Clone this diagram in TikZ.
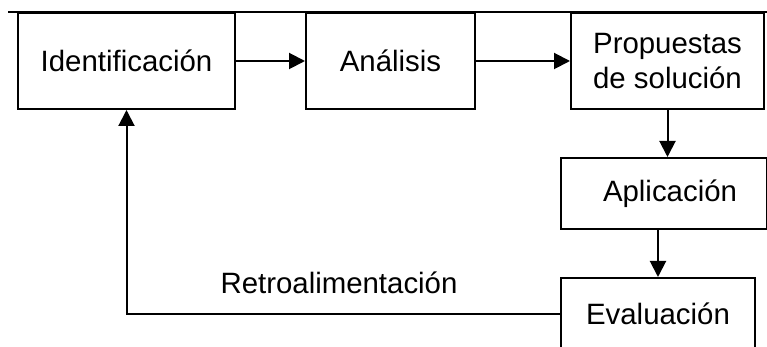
\documentclass[tikz,border=0pt]{standalone}
\usepackage{fontspec}
\setmainfont{Liberation Sans}
\usepackage{tikz}
\usetikzlibrary{
  positioning,
  arrows.meta
}
\tikzset{
  >={Triangle[length=8pt,width=8pt]},
  every node/.style={font=\fontsize{14.7}{17.5}\selectfont},
  stage/.style={draw, line width=1pt, inner sep=0pt, align=center, minimum height=48pt},
  link/.style={->, line width=1pt}
}

\begin{document}
\begin{tikzpicture}[x=0.5pt, y=-0.5pt]
    \clip (0,0) rectangle (767,347);
    \coordinate (t0) at (8,12.5);
    \coordinate (t1) at (767,12.5);
    \node[stage, minimum width=108.5pt] (ident) at (126.5,61) {Identificación};
    \node[stage, minimum width=84.5pt] (anal) at (390.5,61) {Análisis};
    \node[stage, minimum width=96.5pt] (prop) at (667.5,61) {Propuestas\\de solución};
    \node[stage, minimum width=103pt, minimum height=35.5pt] (apl) at (664,193.5) {\hspace*{6pt}Aplicación};
    \node[stage, minimum width=97pt, minimum height=36pt] (eval) at (658,314) {Evaluación};
    \node (retro) at (339,283) {Retroalimentación};
    \draw[line width=1pt] (t0) -- (t1);
    \draw[link] (ident) -- (anal);
    \draw[link] (anal) -- (prop);
    \draw[link] (prop.south) -- (prop.south |- apl.north);
    \draw[link] (eval.north |- apl.south) -- (eval.north);
    \draw[link] (eval.west) -| (ident.south);
\end{tikzpicture}
\end{document}
